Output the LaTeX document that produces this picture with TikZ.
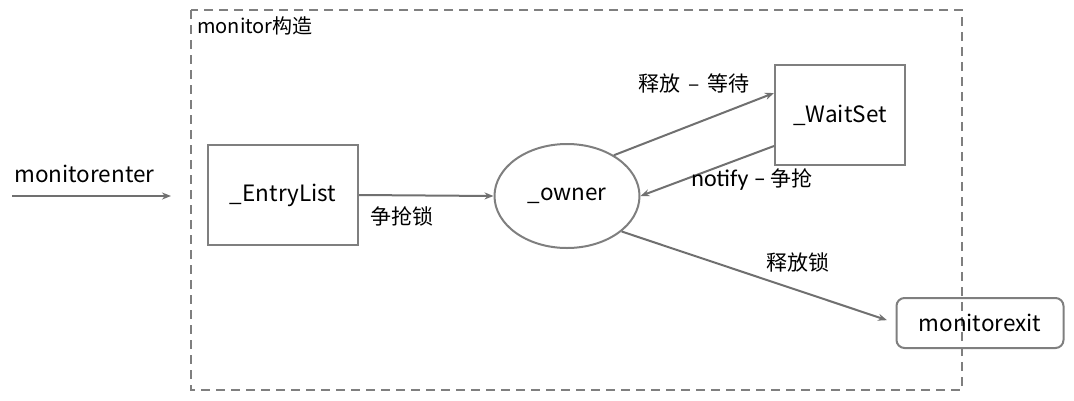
\documentclass[tikz,border=0pt]{standalone}
\usepackage{fontspec}
\setmainfont{Noto Sans CJK SC}
\newfontfamily\calfont{Carlito}
\usetikzlibrary{shapes.geometric,arrows.meta,calc}
\definecolor{linegray}{HTML}{707070}
\definecolor{boxgray}{HTML}{7F7F7F}
\tikzset{
  x=1pt, y=-1pt,
  boxnode/.style={draw=boxgray, line width=2pt, inner sep=0pt},
  flow/.style={draw=linegray, line width=2pt, -{Stealth[length=9pt,width=7pt]}},
  lbl/.style={inner sep=0pt, font=\fontsize{22.5}{25}\selectfont},
  cjklbl/.style={inner sep=0pt, font=\fontsize{21}{24}\selectfont},
}
\begin{document}
\begin{tikzpicture}
\useasboundingbox (0,0) rectangle (1074,400);
% outer monitor frame
\draw[boxgray, line width=2pt, dash pattern=on 9pt off 6pt] (191,10) rectangle (962,390);
\node[inner sep=0pt, anchor=west, font=\fontsize{20}{22}\selectfont] (title) at (197,26) {monitor构造};

% nodes
\node[boxnode, minimum width=150pt, minimum height=100pt, lbl] (entry) at (283,195) {\_EntryList};
\node[boxnode, ellipse, minimum width=145pt, minimum height=104pt, lbl] (owner) at (567,196) {\_owner};
\node[boxnode, minimum width=130pt, minimum height=100pt, lbl] (wait) at (840,115) {\_WaitSet};
\node[boxnode, rounded corners=8pt, minimum width=167pt, minimum height=50pt, lbl] (exit) at (980,323) {monitorexit};

% entry point
\coordinate (inA) at (12,196);
\coordinate (inB) at (171,196);
\node[lbl, anchor=south west] (enter) at (14,183) {monitorenter};
\draw[flow] (inA) -- (inB);

% connectors
\draw[flow] (entry.east) -- (owner.west);
\node[cjklbl] (grab) at (402,216) {争抢锁};

\draw[flow] (owner.41) -- ([yshift=22pt]wait.west);
\node[cjklbl] (release) at (694,83) {释放 \,–\, 等待};

\draw[flow] ([yshift=-31pt]wait.west) -- (owner.east);
\node[cjklbl] (notify) at (752,180) {{\calfont\fontsize{24}{26}\selectfont notify –} 争抢};

\draw[flow, shorten >=9pt] (owner.-33) -- (exit.west);
\node[cjklbl] (unlock) at (798,262) {释放锁};
\end{tikzpicture}
\end{document}
